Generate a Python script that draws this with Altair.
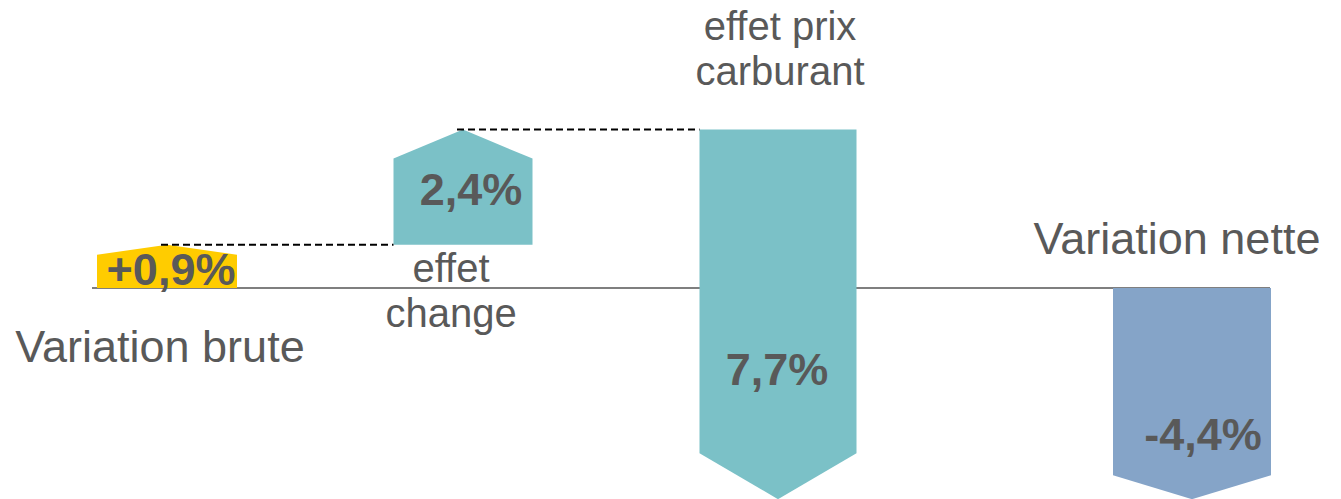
import altair as alt
import pandas as pd

# ---- data ----
categories = ["Variation brute", "effet change", "effet prix carburant", "Variation nette"]
category_lines = [["Variation brute"], ["effet", "change"], ["effet prix", "carburant"], ["Variation nette"]]
values = [0.9, 2.4, -7.7, -4.4]          # % contributions
kinds = ["total", "delta", "delta", "total"]
value_labels = ["+0,9%", "2,4%", "7,7%", "-4,4%"]

# ---- styles / layout ----
bar_colors = ["#FFCC00", "#7BC1C7", "#7BC1C7", "#85A4C8"]
text_color = "#595959"
FONT = "Liberation Sans"
W, H = 1325, 491
PX = 48.0                 # pixels per percentage point
Y0_PX = 280               # pixel row of the zero line
YMAX = Y0_PX / PX
YMIN = -(H - Y0_PX) / PX
bar_center = [159, 455, 770, 1184]
bar_width = [140, 139, 157, 158]
head_px = [10, 29, 46, 24]
baseline_x = (84, 1262)
value_label_px = [(163, 277), (463, 197), (769, 377), (1195, 442)]
cat_label_px = [[(152, 354)], [(443, 274), (443, 319)], [(772, 32), (772, 77)], [(1169, 246)]]
cat_label_size = [45, 40, 40, 45]


def py(p):
    return YMAX - p / PX


# running waterfall
starts, ends = [], []
running = 0.0
for v, k in zip(values, kinds):
    if k == "total":
        s, e = 0.0, v
    else:
        s, e = running, running + v
    starts.append(s)
    ends.append(e)
    running = e

# arrow polygons as areas (left shoulder, tip, right shoulder)
rows = []
for i, cat in enumerate(categories):
    c, w = bar_center[i], bar_width[i]
    s, e = starts[i], ends[i]
    d = 1 if e > s else -1
    shoulder = e - d * head_px[i] / PX
    rows += [
        {"bar": cat, "x": c - w / 2, "y": shoulder, "y2": s},
        {"bar": cat, "x": c, "y": e, "y2": s},
        {"bar": cat, "x": c + w / 2, "y": shoulder, "y2": s},
    ]
area_df = pd.DataFrame(rows)

conn_rows = []
for i in range(2):
    conn_rows.append({"x": bar_center[i] - 6, "x2": bar_center[i + 1] - bar_width[i + 1] / 2, "y": ends[i]})
conn_df = pd.DataFrame(conn_rows)

base_df = pd.DataFrame([{"x": baseline_x[0], "x2": baseline_x[1], "y": 0.0}])

val_df = pd.DataFrame([
    {"t": value_labels[i], "x": value_label_px[i][0], "y": py(value_label_px[i][1])}
    for i in range(len(categories))
])

cat_rows = []
for i in range(len(categories)):
    for line, (lx, ly) in zip(category_lines[i], cat_label_px[i]):
        cat_rows.append({"t": line, "x": lx, "y": py(ly), "fs": cat_label_size[i]})
cat_df = pd.DataFrame(cat_rows)

xs = alt.Scale(domain=[0, W], nice=False, zero=False)
ys = alt.Scale(domain=[YMIN, YMAX], nice=False, zero=False)

baseline = alt.Chart(base_df).mark_rule(color="#7F7F7F", strokeWidth=2).encode(
    x=alt.X("x:Q", scale=xs, axis=None), x2="x2:Q", y=alt.Y("y:Q", scale=ys, axis=None)
)

areas = alt.Chart(area_df).mark_area(opacity=1, interpolate="linear", orient="vertical").encode(
    x=alt.X("x:Q", scale=xs, axis=None),
    y=alt.Y("y:Q", scale=ys, axis=None, stack=None),
    y2="y2:Q",
    color=alt.Color("bar:N", scale=alt.Scale(domain=categories, range=bar_colors), legend=None),
    detail="bar:N",
)

connectors = alt.Chart(conn_df).mark_rule(color="#000000", strokeWidth=2, strokeDash=[7, 4]).encode(
    x=alt.X("x:Q", scale=xs, axis=None), x2="x2:Q", y=alt.Y("y:Q", scale=ys, axis=None)
)

vals = alt.Chart(val_df).mark_text(
    font=FONT, fontSize=45, fontWeight="bold", color=text_color, align="center", baseline="alphabetic"
).encode(x=alt.X("x:Q", scale=xs, axis=None), y=alt.Y("y:Q", scale=ys, axis=None), text="t:N")

cats = alt.Chart(cat_df).mark_text(
    font=FONT, color=text_color, align="center", baseline="alphabetic"
).encode(
    x=alt.X("x:Q", scale=xs, axis=None),
    y=alt.Y("y:Q", scale=ys, axis=None),
    text="t:N",
    size=alt.Size("fs:Q", scale=None, legend=None),
)

chart = alt.layer(baseline, areas, connectors, vals, cats).properties(
    width=W, height=H, padding=0, autosize=alt.AutoSizeParams(type="none")
).configure_view(stroke=None)

chart.save("out.html", embed_options={"renderer": "svg", "actions": False})
